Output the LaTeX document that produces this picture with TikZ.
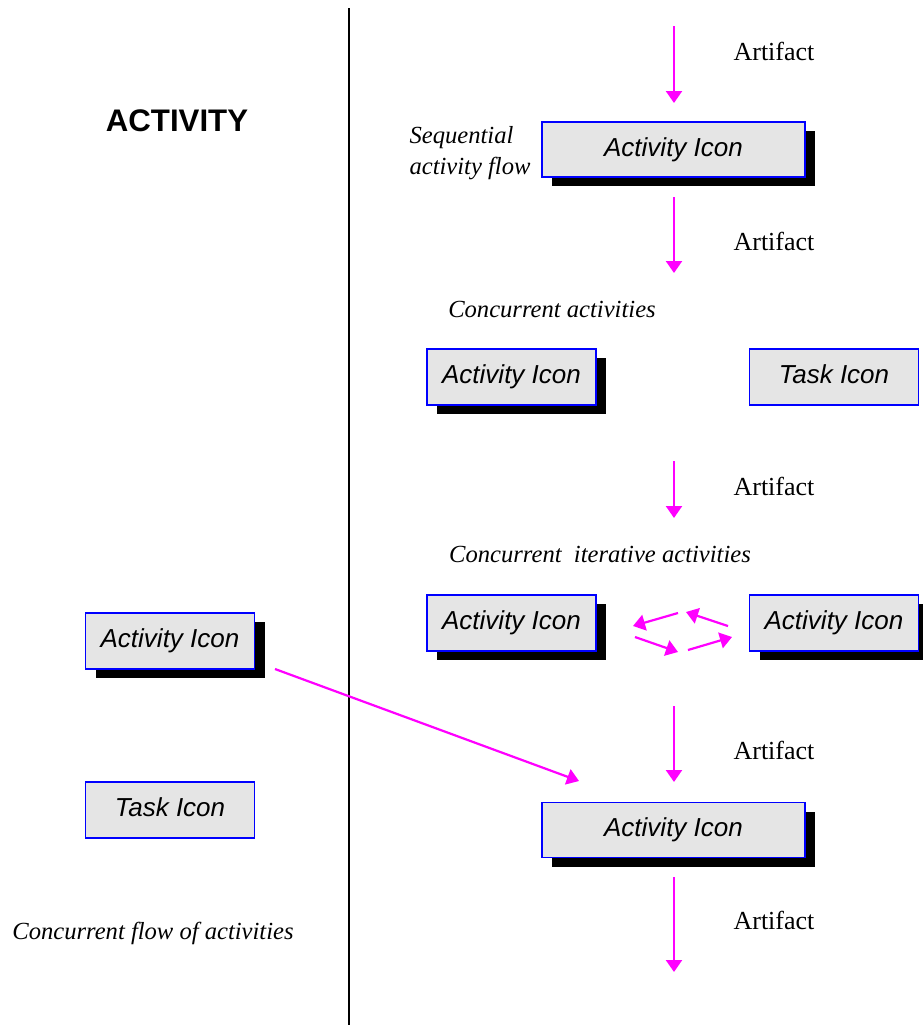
\documentclass[tikz,border=0pt]{standalone}
\usepackage{fontspec}
\setmainfont{Liberation Serif}
\newfontfamily\arialfont{Liberation Sans}
\usetikzlibrary{arrows.meta,shadows}
\definecolor{flow}{RGB}{255,0,255}
\definecolor{iconfill}{RGB}{229,229,229}
\begin{document}
\begin{tikzpicture}[x=0.5pt,y=-0.5pt,
  icon/.style={draw=blue,line width=0.8pt,fill=iconfill,inner sep=0pt,
    text height=9.3pt,text depth=2.7pt,
    font=\arialfont\itshape\fontsize{13}{15}\selectfont},
  wideicon/.style={icon,minimum width=131.5pt,minimum height=27.5pt},
  smallicon/.style={icon,minimum width=84.5pt,minimum height=28pt},
  shadowed/.style={drop shadow={shadow xshift=5pt,shadow yshift=-4.5pt,fill=black,opacity=1}},
  flowarrow/.style={draw=flow,line width=1.1pt,-{Triangle[length=6pt,width=8pt]}},
  artifact/.style={font=\fontsize{13}{15}\selectfont},
  note/.style={font=\itshape\fontsize{12.3}{15.5}\selectfont,align=left}]
\useasboundingbox (0,0) rectangle (923,1025);

% divider
\coordinate (divtop) at (349,8);
\coordinate (divbot) at (349,1025);
\draw[line width=1.1pt] (divtop) -- (divbot);

% left column
\node[font=\arialfont\bfseries\fontsize{15.6}{18}\selectfont] (title) at (177,121) {ACTIVITY};
\node[smallicon,shadowed] (lact) at (170,641) {Activity Icon};
\node[smallicon] (ltask) at (170,810) {Task Icon};
\node[note] (cflow) at (153,933) {Concurrent flow of activities};

% sequential flow
\coordinate (a1s) at (674,26);
\coordinate (a1e) at (674,103);
\draw[flowarrow] (a1s) -- (a1e);
\node[artifact] (t1) at (774,51) {Artifact};
\node[wideicon,shadowed] (act1) at (673.5,149.5) {Activity Icon};
\node[note] (seq) at (470,153) {Sequential\\activity flow};
\coordinate (a2s) at (674,197);
\coordinate (a2e) at (674,273);
\draw[flowarrow] (a2s) -- (a2e);
\node[artifact] (t2) at (774,241) {Artifact};

% concurrent activities
\node[note] (conc) at (552,309) {Concurrent activities};
\node[smallicon,shadowed] (act2) at (511.5,377) {Activity Icon};
\node[smallicon] (task2) at (834,377) {Task Icon};
\coordinate (a3s) at (674,461);
\coordinate (a3e) at (674,518);
\draw[flowarrow] (a3s) -- (a3e);
\node[artifact] (t3) at (774,486) {Artifact};

% concurrent iterative activities
\node[note] (iter) at (600,554) {Concurrent\ \ iterative activities};
\node[smallicon,shadowed] (act3) at (511.5,623) {Activity Icon};
\node[smallicon,shadowed] (act4) at (834,623) {Activity Icon};
\coordinate (c1s) at (678,613);
\coordinate (c1e) at (633,626);
\coordinate (c2s) at (728,626);
\coordinate (c2e) at (686,612);
\coordinate (c3s) at (635,637);
\coordinate (c3e) at (678,652);
\coordinate (c4s) at (688,650);
\coordinate (c4e) at (732,637);
\draw[flowarrow] (c1s) -- (c1e);
\draw[flowarrow] (c2s) -- (c2e);
\draw[flowarrow] (c3s) -- (c3e);
\draw[flowarrow] (c4s) -- (c4e);

% merge into the final activity
\coordinate (ls) at (275,669);
\coordinate (le) at (579,781);
\draw[flowarrow] (ls) -- (le);
\coordinate (a4s) at (674,706);
\coordinate (a4e) at (674,782);
\draw[flowarrow] (a4s) -- (a4e);
\node[artifact] (t4) at (774,750) {Artifact};
\node[wideicon,shadowed] (act5) at (673.5,830) {Activity Icon};
\coordinate (a5s) at (674,877);
\coordinate (a5e) at (674,972);
\draw[flowarrow] (a5s) -- (a5e);
\node[artifact] (t5) at (774,920) {Artifact};
\end{tikzpicture}
\end{document}
